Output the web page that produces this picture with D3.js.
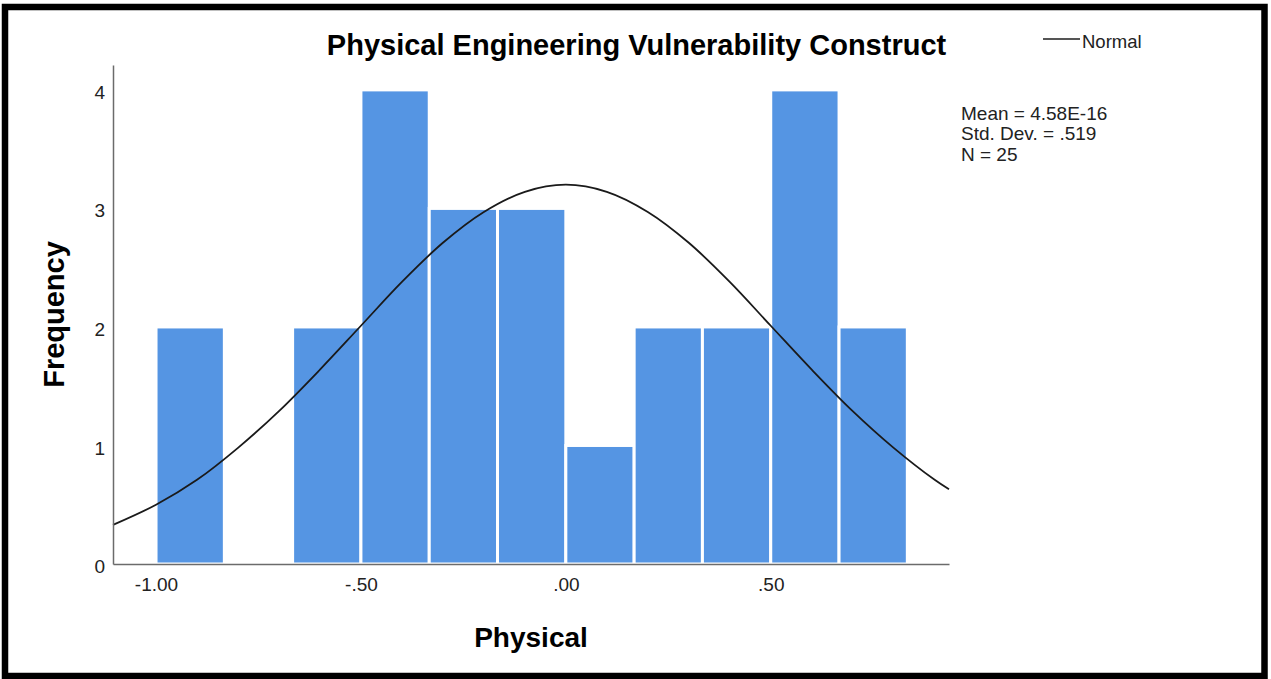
<!DOCTYPE html>
<html>
<head>
<meta charset="utf-8">
<script src="https://cdn.jsdelivr.net/npm/d3@7"></script>
<style>
  body { margin: 0; background: #fff; }
  text { font-family: "Liberation Sans", Arial, sans-serif; }
</style>
</head>
<body>
<div id="chart"></div>
<script>
// histogram bins (lower edge, upper edge) and frequencies
const binEdges = [-1.0, -0.8333, -0.6667, -0.5, -0.3333, -0.1667, 0.0, 0.1667, 0.3333, 0.5, 0.6667, 0.8333];
const counts = [2, 0, 2, 4, 3, 3, 1, 2, 2, 4, 2];

// normal curve
const normalX = [-1.105, -1.0, -0.9, -0.8, -0.7, -0.6, -0.5, -0.4, -0.3, -0.2, -0.1, 0.0,
  0.1, 0.2, 0.3, 0.4, 0.5, 0.6, 0.7, 0.8, 0.9, 0.935];
const normalY = [0.33, 0.50, 0.71, 0.98, 1.29, 1.64, 2.01, 2.38, 2.71, 2.97, 3.14, 3.20,
  3.14, 2.97, 2.71, 2.38, 2.01, 1.64, 1.29, 0.98, 0.71, 0.63];

const xTicks = [-1.0, -0.5, 0.0, 0.5];
const xTickLabels = ["-1.00", "-.50", ".00", ".50"];
const yTicks = [0, 1, 2, 3, 4];
const statLines = ["Mean = 4.58E-16", "Std. Dev. = .519", "N = 25"];

const width = 1271, height = 679;

const svg = d3.select("#chart")
  .append("svg")
  .attr("width", width)
  .attr("height", height);

// frame
svg.append("rect")
  .attr("x", 5).attr("y", 7)
  .attr("width", 1259.5).attr("height", 669)
  .attr("fill", "#fff")
  .attr("stroke", "#000")
  .attr("stroke-width", 6.5);

const x = d3.scaleLinear().domain([-1.105, 0.935]).range([113, 949]);
const y = d3.scaleLinear().domain([0, 4.21]).range([564, 65]);

const bins = counts.map((c, i) => ({ x0: binEdges[i], x1: binEdges[i + 1], count: c }));

// bars
svg.selectAll(".bar")
  .data(bins.filter(d => d.count > 0))
  .enter()
  .append("rect")
  .attr("class", "bar")
  .attr("x", d => x(d.x0))
  .attr("y", d => y(d.count))
  .attr("width", d => x(d.x1) - x(d.x0))
  .attr("height", d => y(0) - y(d.count))
  .attr("fill", "#5595e3")
  .attr("stroke", "#fff")
  .attr("stroke-width", 3);

// normal curve
const line = d3.line()
  .x((d, i) => x(normalX[i]))
  .y(d => y(d))
  .curve(d3.curveCatmullRom);

svg.append("path")
  .datum(normalY)
  .attr("d", line)
  .attr("fill", "none")
  .attr("stroke", "#1a1a1a")
  .attr("stroke-width", 1.8);

// axes
const xAxis = svg.append("g")
  .attr("transform", `translate(0,${y(0)})`)
  .call(d3.axisBottom(x).tickValues(xTicks).tickSize(0).tickPadding(14)
    .tickFormat((d, i) => xTickLabels[i]));

const yAxis = svg.append("g")
  .attr("transform", `translate(${x.range()[0]},0)`)
  .call(d3.axisLeft(y).tickValues(yTicks).tickSize(0).tickPadding(8)
    .tickFormat(d3.format("d")));

yAxis.selectAll("text").attr("dy", "0.45em");

[xAxis, yAxis].forEach(a => {
  a.select(".domain").attr("stroke", "#6b6b6b").attr("stroke-width", 1.5);
  a.selectAll("text")
    .attr("font-family", "Liberation Sans, Arial, sans-serif")
    .attr("font-size", 19)
    .attr("fill", "#222");
});

// title
svg.append("text")
  .attr("x", 636.5)
  .attr("y", 55)
  .attr("text-anchor", "middle")
  .attr("font-size", 29)
  .attr("font-weight", "bold")
  .text("Physical Engineering Vulnerability Construct");

// axis titles
svg.append("text")
  .attr("x", (x.range()[0] + x.range()[1]) / 2)
  .attr("y", 647)
  .attr("text-anchor", "middle")
  .attr("font-size", 28)
  .attr("font-weight", "bold")
  .text("Physical");

svg.append("text")
  .attr("transform", `translate(64,${(y.range()[0] + y.range()[1]) / 2}) rotate(-90)`)
  .attr("text-anchor", "middle")
  .attr("font-size", 29)
  .attr("font-weight", "bold")
  .text("Frequency");

// legend
svg.append("line")
  .attr("x1", 1043).attr("x2", 1080)
  .attr("y1", 39).attr("y2", 39)
  .attr("stroke", "#555")
  .attr("stroke-width", 2);

svg.append("text")
  .attr("x", 1082)
  .attr("y", 48)
  .attr("font-size", 18.5)
  .attr("fill", "#222")
  .text("Normal");

// stats
svg.selectAll(".stat")
  .data(statLines)
  .enter()
  .append("text")
  .attr("class", "stat")
  .attr("x", 961)
  .attr("y", (d, i) => 120 + i * 20.3)
  .attr("font-size", 19)
  .attr("fill", "#222")
  .text(d => d);
</script>
</body>
</html>
